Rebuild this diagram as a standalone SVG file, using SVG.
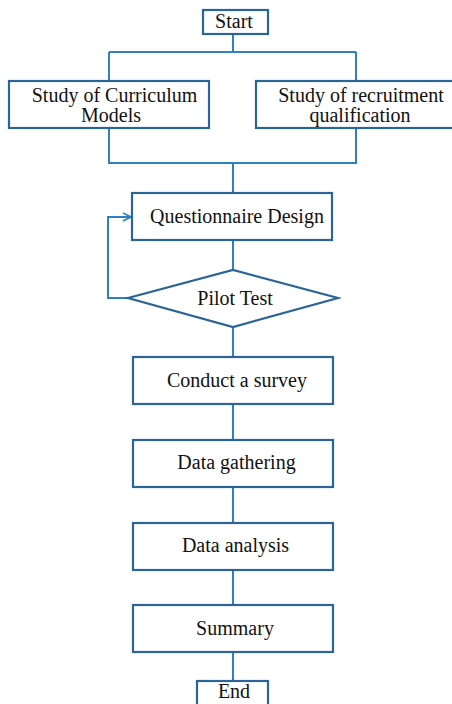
<svg xmlns="http://www.w3.org/2000/svg" width="452" height="704" viewBox="0 0 452 704">
<style>
.box{fill:#fff;stroke:#2b6496;stroke-width:2.2}
.con{fill:none;stroke:#2e80c2;stroke-width:2}
text{font-family:"Liberation Serif","Times New Roman",serif;font-size:20px;fill:#111;text-anchor:middle}
</style>
<defs>
<marker id="arr" viewBox="0 0 10 10" refX="9" refY="5" markerWidth="10" markerHeight="10" markerUnits="userSpaceOnUse" orient="auto">
<path d="M1,1 L9,5 L1,9" fill="none" stroke="#2e80c2" stroke-width="1.6"/>
</marker>
</defs>
<g id="connectors">
<path class="con" d="M233,34 V52 M109,52 H356 M109,52 V81 M356,52 V81"/>
<path class="con" d="M109,128 V163 H356 V128 M233,163 V193"/>
<path class="con" d="M233,240 V270"/>
<path class="con" d="M128,298 H108 V217 H131" marker-end="url(#arr)"/>
<path class="con" d="M233,327 V357 M233,404 V440 M233,487 V523 M233,570 V605 M233,652 V681"/>
</g>
<g id="start"><rect class="box" x="203" y="10" width="65" height="24"/><text x="234" y="28">Start</text></g>
<g id="curriculum"><rect class="box" x="9" y="81" width="200" height="47"/><text x="114.5" y="102">Study of Curriculum</text><text x="111" y="122">Models</text></g>
<g id="recruitment"><rect class="box" x="256" y="81" width="200" height="47"/><text x="361" y="102">Study of recruitment</text><text x="360" y="122">qualification</text></g>
<g id="questionnaire"><rect class="box" x="132" y="193" width="200" height="47"/><text x="237" y="223">Questionnaire Design</text></g>
<g id="pilot"><polygon class="box" points="128,298 233,270 338,298 233,327"/><text x="235" y="305">Pilot Test</text></g>
<g id="survey"><rect class="box" x="133" y="357" width="200" height="47"/><text x="237" y="387">Conduct a survey</text></g>
<g id="gathering"><rect class="box" x="133" y="440" width="200" height="47"/><text x="236.5" y="469">Data gathering</text></g>
<g id="analysis"><rect class="box" x="133" y="523" width="200" height="47"/><text x="235.5" y="552">Data analysis</text></g>
<g id="summary"><rect class="box" x="133" y="605" width="200" height="47"/><text x="235" y="635">Summary</text></g>
<g id="end"><rect class="box" x="197" y="681" width="71" height="30"/><text x="234" y="698">End</text></g>
</svg>
